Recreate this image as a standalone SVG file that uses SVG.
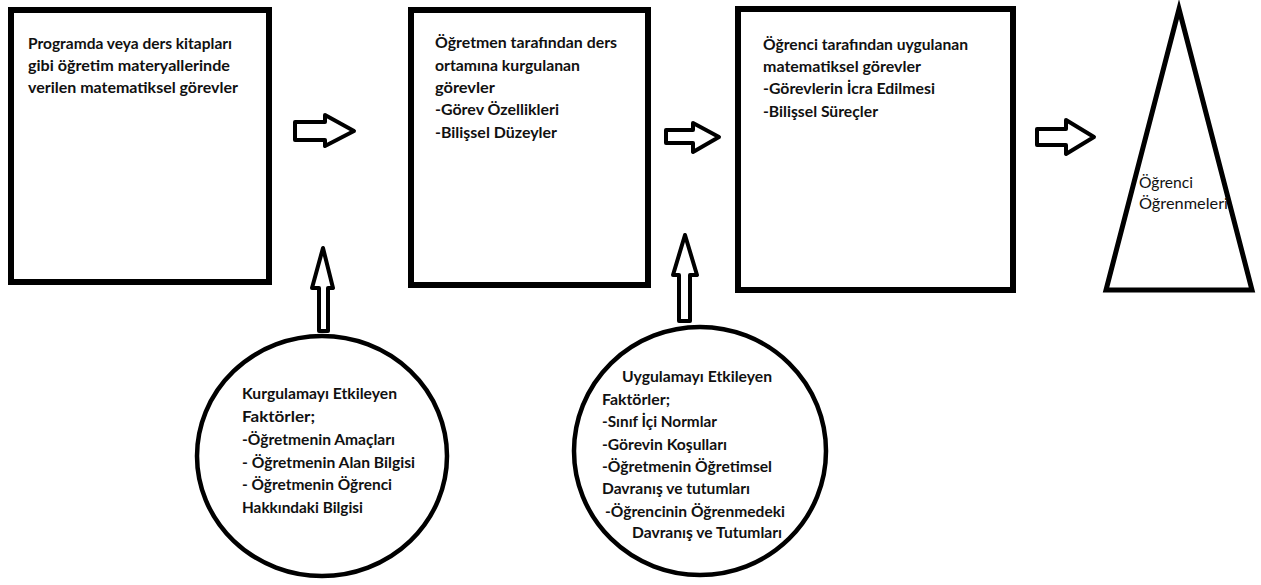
<svg xmlns="http://www.w3.org/2000/svg" width="1261" height="585" viewBox="0 0 1261 585">
<style>
.shape{fill:#fff;stroke:#000;stroke-width:6}
.arr{fill:#fff;stroke:#000;stroke-width:4;stroke-linejoin:round}
.ell{fill:#fff;stroke:#000;stroke-width:4.5}
text{font-family:Lato,"Liberation Sans",sans-serif;font-size:15.5px;font-weight:700;fill:#111}
.reg{font-weight:400}
</style>
<rect width="1261" height="585" fill="#fff"/>
<g id="connectors">
<path class="arr" d="M295,122 H325 V115 L354,131 L325,146 V140 H295 Z"/>
<path class="arr" d="M666,130 H693 V123 L719,137 L693,152 V143 H666 Z"/>
<path class="arr" d="M1037,129 H1066 V120 L1094,137 L1066,154 V145 H1037 Z"/>
<path class="arr" d="M323,248 L333,288 H328 V331 H319 V288 H312 Z"/>
<path class="arr" d="M685,235 L697,275 H690 V321 H679 V275 H673 Z"/>
</g>
<g id="box1">
<rect class="shape" x="11" y="10" width="258" height="272"/>
<text x="28" y="49" textLength="204" lengthAdjust="spacingAndGlyphs">Programda veya ders kitapları</text>
<text x="28" y="71" textLength="202" lengthAdjust="spacingAndGlyphs">gibi öğretim materyallerinde</text>
<text x="28" y="93" textLength="210" lengthAdjust="spacingAndGlyphs">verilen matematiksel görevler</text>
</g>
<g id="box2">
<rect class="shape" x="411" y="10" width="237" height="275"/>
<text x="435" y="48" textLength="182" lengthAdjust="spacingAndGlyphs">Öğretmen tarafından ders</text>
<text x="435" y="71" textLength="145" lengthAdjust="spacingAndGlyphs">ortamına kurgulanan</text>
<text x="435" y="93" textLength="60" lengthAdjust="spacingAndGlyphs">görevler</text>
<text x="435" y="115" textLength="124" lengthAdjust="spacingAndGlyphs">-Görev Özellikleri</text>
<text x="435" y="138" textLength="122" lengthAdjust="spacingAndGlyphs">-Bilişsel Düzeyler</text>
</g>
<g id="box3">
<rect class="shape" x="738" y="9" width="275" height="281"/>
<text x="763" y="50" textLength="205" lengthAdjust="spacingAndGlyphs">Öğrenci tarafından uygulanan</text>
<text x="763" y="72" textLength="158" lengthAdjust="spacingAndGlyphs">matematiksel görevler</text>
<text x="763" y="94" textLength="172" lengthAdjust="spacingAndGlyphs">-Görevlerin İcra Edilmesi</text>
<text x="763" y="117" textLength="115" lengthAdjust="spacingAndGlyphs">-Bilişsel Süreçler</text>
</g>
<g id="triangle">
<polygon class="shape" style="stroke-width:5;stroke-linejoin:miter" points="1179,9 1252,290 1106,290"/>
<text class="reg" x="1139" y="188" textLength="54" lengthAdjust="spacingAndGlyphs">Öğrenci</text>
<text class="reg" x="1139" y="209" textLength="89" lengthAdjust="spacingAndGlyphs">Öğrenmeleri</text>
</g>
<g id="ellipse1">
<ellipse class="ell" cx="322" cy="456" rx="125" ry="120"/>
<text x="242" y="399" textLength="155" lengthAdjust="spacingAndGlyphs">Kurgulamayı Etkileyen</text>
<text x="242" y="422" textLength="73" lengthAdjust="spacingAndGlyphs">Faktörler;</text>
<text x="242" y="445" textLength="153" lengthAdjust="spacingAndGlyphs">-Öğretmenin Amaçları</text>
<text x="242" y="468" textLength="173" lengthAdjust="spacingAndGlyphs">- Öğretmenin Alan Bilgisi</text>
<text x="242" y="490" textLength="150" lengthAdjust="spacingAndGlyphs">- Öğretmenin Öğrenci</text>
<text x="242" y="513" textLength="121" lengthAdjust="spacingAndGlyphs">Hakkındaki Bilgisi</text>
</g>
<g id="ellipse2">
<ellipse class="ell" cx="700" cy="451" rx="126" ry="124"/>
<text x="622" y="382" textLength="150" lengthAdjust="spacingAndGlyphs">Uygulamayı Etkileyen</text>
<text x="602" y="405" textLength="68" lengthAdjust="spacingAndGlyphs">Faktörler;</text>
<text x="602" y="427" textLength="115" lengthAdjust="spacingAndGlyphs">-Sınıf İçi Normlar</text>
<text x="602" y="450" textLength="125" lengthAdjust="spacingAndGlyphs">-Görevin Koşulları</text>
<text x="602" y="472" textLength="170" lengthAdjust="spacingAndGlyphs">-Öğretmenin Öğretimsel</text>
<text x="602" y="494" textLength="148" lengthAdjust="spacingAndGlyphs">Davranış ve tutumları</text>
<text x="605" y="517" textLength="180" lengthAdjust="spacingAndGlyphs">-Öğrencinin Öğrenmedeki</text>
<text x="632" y="538" textLength="150" lengthAdjust="spacingAndGlyphs">Davranış ve Tutumları</text>
</g>
</svg>
